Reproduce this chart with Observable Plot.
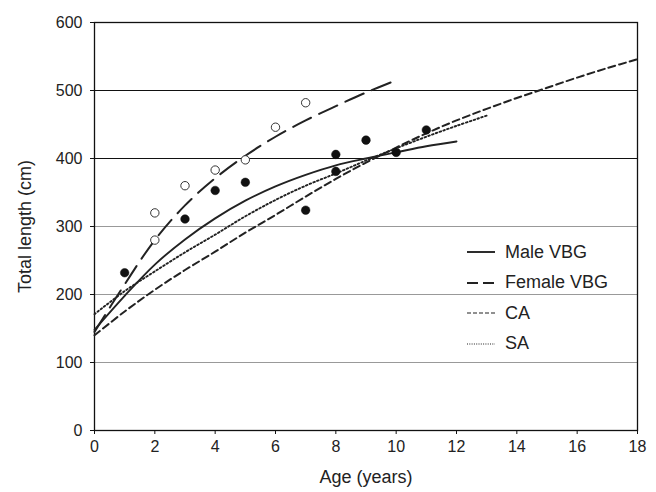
<!DOCTYPE html>
<html>
<head>
<meta charset="utf-8">
<script src="https://cdn.jsdelivr.net/npm/d3@7"></script>
<script src="https://cdn.jsdelivr.net/npm/@observablehq/plot@0.6"></script>
<style>
  html, body { margin: 0; padding: 0; background: #fff; }
  #wrap { position: relative; width: 656px; height: 492px; font-family: "Liberation Sans", Arial, sans-serif; color: #222; }
  #legend { position: absolute; left: 466px; top: 237px; font-size: 18px; }
  .row { height: 30.5px; display: flex; align-items: center; }
  .row svg { width: 32px; height: 10px; margin-right: 7px; }
</style>
</head>
<body>
<div id="wrap"></div>
<script>
// ---- data ----
const maleAges = [0,1,2,3,4,5,6,7,8,9,10,11,12];
const maleLen  = [148,198,244,281,312,338,359,376,390,400,409,418,425];

const femaleAges = [0,1,2,3,4,5,6,7,8,9,10];
const femaleLen  = [145,215,280,331,371,404,432,456,477,497,515];

const caAges = [0,1,2,3,4,5,6,7,8,9,10,11,12,13,14,15,16,17,18];
const caLen  = [140,175,207,236,263,291,317,344,370,394,416,437,456,473,489,504,519,533,546];

const saAges = [0,1,2,3,4,5,6,7,8,9,10,11,12,13];
const saLen  = [171,205,234,262,288,315,339,360,378,397,415,432,448,463];

const filledAges = [1,3,4,5,7,8,8,9,10,11];
const filledLen  = [232,311,353,365,324,406,381,427,409,442];

const openAges = [2,2,3,4,5,6,7];
const openLen  = [280,320,360,383,398,446,482];

const xTicks = [0,2,4,6,8,10,12,14,16,18];
const yTicks = [0,100,200,300,400,500,600];
const greyGrid = [100,200,300];
const darkGrid = [400,500];

const legendItems = ["Male VBG","Female VBG","CA","SA"];

// ---- build tables ----
const toRows = (xs, ys) => xs.map((x, i) => ({age: x, len: ys[i]}));
const male = toRows(maleAges, maleLen);
const female = toRows(femaleAges, femaleLen);
const ca = toRows(caAges, caLen);
const sa = toRows(saAges, saLen);
const filled = toRows(filledAges, filledLen);
const open = toRows(openAges, openLen);

const ink = "#222";
const styles = [
  {stroke: ink, strokeWidth: 1.9},
  {stroke: ink, strokeWidth: 2, strokeDasharray: "20,9"},
  {stroke: ink, strokeWidth: 2, strokeDasharray: "7,4"},
  {stroke: ink, strokeWidth: 1.9, strokeDasharray: "1.6,2.4"}
];

const chart = Plot.plot({
  width: 656,
  height: 492,
  marginLeft: 94,
  marginRight: 19,
  marginTop: 22,
  marginBottom: 62,
  style: {fontFamily: '"Liberation Sans", Arial, sans-serif', fontSize: "16px", color: ink, background: "#fff"},
  x: {domain: [0, 18]},
  y: {domain: [0, 600]},
  marks: [
    Plot.ruleY(greyGrid, {stroke: "#999", strokeWidth: 1}),
    Plot.ruleY(darkGrid, {stroke: "#111", strokeWidth: 1.2}),
    Plot.frame({stroke: "#111", strokeWidth: 1.3}),
    Plot.axisX({ticks: xTicks, tickSize: 4, tickPadding: 6, label: null, stroke: "#111", fill: ink}),
    Plot.axisY({ticks: yTicks, tickSize: 4, tickPadding: 8, label: null, stroke: "#111", fill: ink}),
    Plot.axisX({ticks: [], label: "Age (years)", labelAnchor: "center", labelArrow: "none", labelOffset: 52, fontSize: 18, fill: ink}),
    Plot.axisY({ticks: [], label: "Total length (cm)", labelAnchor: "center", labelArrow: "none", labelOffset: 76, fontSize: 18, fill: ink}),
    Plot.line(ca, {x: "age", y: "len", curve: "catmull-rom", ...styles[2]}),
    Plot.line(sa, {x: "age", y: "len", curve: "catmull-rom", ...styles[3]}),
    Plot.line(female, {x: "age", y: "len", curve: "catmull-rom", ...styles[1]}),
    Plot.line(male, {x: "age", y: "len", curve: "catmull-rom", ...styles[0]}),
    Plot.dot(open, {x: "age", y: "len", r: 4.2, fill: "#fff", stroke: "#333", strokeWidth: 1}),
    Plot.dot(filled, {x: "age", y: "len", r: 4.3, fill: "#111", stroke: "#111", strokeWidth: 0.5})
  ]
});

const wrap = document.getElementById("wrap");
wrap.appendChild(chart);

// ---- legend overlay ----
const legendStyles = [
  {w: 1.9, dash: null},
  {w: 1.9, dash: "11,5"},
  {w: 1.2, dash: "4,2"},
  {w: 1.2, dash: "1,1.3"}
];
const legend = document.createElement("div");
legend.id = "legend";
legendItems.forEach((name, i) => {
  const row = document.createElement("div");
  row.className = "row";
  const s = legendStyles[i];
  row.innerHTML = `<svg viewBox="0 0 32 10"><line x1="1" y1="5" x2="29" y2="5" stroke="${ink}" stroke-width="${s.w}" ${s.dash ? `stroke-dasharray="${s.dash}"` : ""}/></svg><span>${name}</span>`;
  legend.appendChild(row);
});
wrap.appendChild(legend);
</script>
</body>
</html>
